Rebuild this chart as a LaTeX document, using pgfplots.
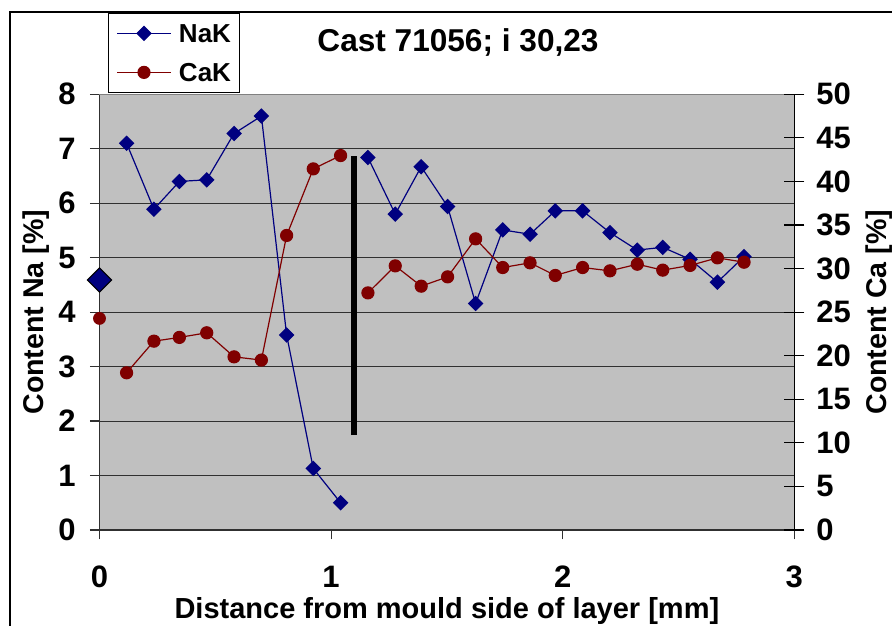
\documentclass[border=0pt]{standalone}
\usepackage{pgfplots}
\pgfplotsset{compat=1.18}
\usepackage{fontspec}
\setmainfont{Liberation Sans}

\definecolor{navyk}{HTML}{000080}
\definecolor{maroonk}{HTML}{800000}
\definecolor{plotgrey}{HTML}{C0C0C0}
\definecolor{gridgrey}{HTML}{303030}

\pgfplotsset{
  frame/.style={
    at={(0pt,0pt)}, anchor=south west,
    scale only axis, width=347.4pt, height=217.85pt,
    xmin=0, xmax=3,
    clip=false, unbounded coords=jump,
    /pgf/number format/assume math mode=true,
    ticklabel style={font=\fontsize{15.5}{16}\selectfont\bfseries, inner sep=0pt},
  },
}

\begin{document}
\begin{tikzpicture}
% outer chart frame
\draw[black, line width=0.6pt] (-44.75pt,-70pt) -- (-44.75pt,259pt) -- (420pt,259pt);

\begin{axis}[
  frame,
  ymin=0, ymax=8,
  xtick={0,1,2,3}, ytick={0,1,...,8},
  axis x line*=bottom, axis y line*=left,
  axis line style={gridgrey, line width=0.6pt, -},
  axis background/.style={fill=plotgrey},
  ymajorgrids, grid style={gridgrey, line width=0.5pt},
  tick align=outside, major tick length=4.75pt,
  tick style={gridgrey, line width=0.6pt},
  yticklabel shift=7pt,
  xticklabel shift=13pt,
  title={Cast 71056; i 30,23},
  title style={at={(axis description cs:0.516,1.0711)}, anchor=base,
    font=\fontsize{15.8}{16}\selectfont\bfseries, inner sep=0pt},
  xlabel={Distance from mould side of layer [mm]},
  xlabel style={at={(axis description cs:0.5,-0.202)}, anchor=base,
    font=\fontsize{14.5}{15}\selectfont\bfseries, inner sep=0pt},
  ylabel={Content Na [\%]},
  ylabel style={at={(axis description cs:-0.0809,0.5)}, anchor=base,
    font=\fontsize{14.3}{15}\selectfont\bfseries, inner sep=0pt},
  legend style={at={(axis description cs:0.0118,1.1873)}, anchor=north west,
    draw=black, line width=0.6pt, fill=white,
    font=\fontsize{13}{13}\selectfont\bfseries,
    inner xsep=4.2pt, inner ysep=5.4pt, row sep=10.2pt, column sep=3.85pt,
    nodes={inner sep=0pt, text height=9.3pt, text depth=0pt}},
  legend cell align=left,
  legend image code/.code={
    \draw[mark repeat=2, mark phase=2, #1]
      plot coordinates {(0pt,0pt) (13.35pt,0pt) (26.7pt,0pt)};},
]
% top edge of the plot area
\draw[gray, line width=0.7pt] (rel axis cs:0,1) -- (rel axis cs:1,1);

% Na content along the layer (gap at the boundary line)
\addplot[navyk, line width=0.6pt, mark=square*, mark size=2.45pt,
  mark options={rotate=45, solid, fill=navyk, draw=navyk}]
  coordinates {
  (0.117,7.10) (0.235,5.89) (0.345,6.40) (0.463,6.43) (0.581,7.28)
  (0.699,7.60) (0.808,3.58) (0.923,1.13) (1.041,0.50) (1.100,nan)
  (1.159,6.84) (1.277,5.80) (1.389,6.67) (1.503,5.94) (1.624,4.16)
  (1.741,5.51) (1.859,5.43) (1.968,5.86) (2.086,5.86) (2.204,5.46)
  (2.322,5.14) (2.432,5.19) (2.550,4.97) (2.668,4.55) (2.783,5.02)
  };
\addlegendentry{NaK}
\addlegendimage{maroonk, line width=0.6pt, mark=*, mark size=3pt,
  mark options={solid, fill=maroonk, draw=maroonk}}
\addlegendentry{CaK}

% mean Na of the melt
\addplot[forget plot, only marks, mark=square*, mark size=4.3pt,
  mark options={rotate=45, fill=navyk, draw=black, line width=0.5pt}]
  coordinates {(0,4.59)};

% boundary of the layer
\addplot[forget plot, black, line width=3pt, line cap=butt]
  coordinates {(1.10,1.74) (1.10,6.87)};
\end{axis}

\begin{axis}[
  frame,
  ymin=0, ymax=50, ytick={0,5,...,50},
  axis x line=none, axis y line*=right,
  axis line style={black, line width=0.6pt, -},
  tick align=center, major tick length=10pt,
  tick style={black, line width=0.6pt},
  yticklabel shift=5.85pt,
  ylabel={Content Ca [\%]},
  ylabel style={at={(axis description cs:1.133,0.5)}, anchor=base,
    font=\fontsize{14.3}{15}\selectfont\bfseries, inner sep=0pt},
]
% Ca content along the layer (gap at the boundary line)
\addplot[maroonk, line width=0.6pt, mark=*, mark size=3pt,
  mark options={solid, fill=maroonk, draw=maroonk}]
  coordinates {
  (0.117,18.04) (0.235,21.67) (0.345,22.10) (0.463,22.63) (0.581,19.87)
  (0.699,19.50) (0.808,33.80) (0.923,41.44) (1.041,42.97) (1.100,nan)
  (1.159,27.21) (1.277,30.31) (1.389,27.98) (1.503,29.05) (1.624,33.41)
  (1.741,30.12) (1.859,30.66) (1.968,29.21) (2.086,30.12) (2.204,29.74)
  (2.322,30.50) (2.432,29.82) (2.550,30.36) (2.668,31.23) (2.783,30.73)
  };
\addplot[only marks, mark=*, mark size=3pt,
  mark options={fill=maroonk, draw=maroonk}]
  coordinates {(0,24.28)};
\end{axis}

\pgfresetboundingbox
\path (-49.75pt,-47.5pt) rectangle (396.25pt,265pt);
\end{tikzpicture}
\end{document}
